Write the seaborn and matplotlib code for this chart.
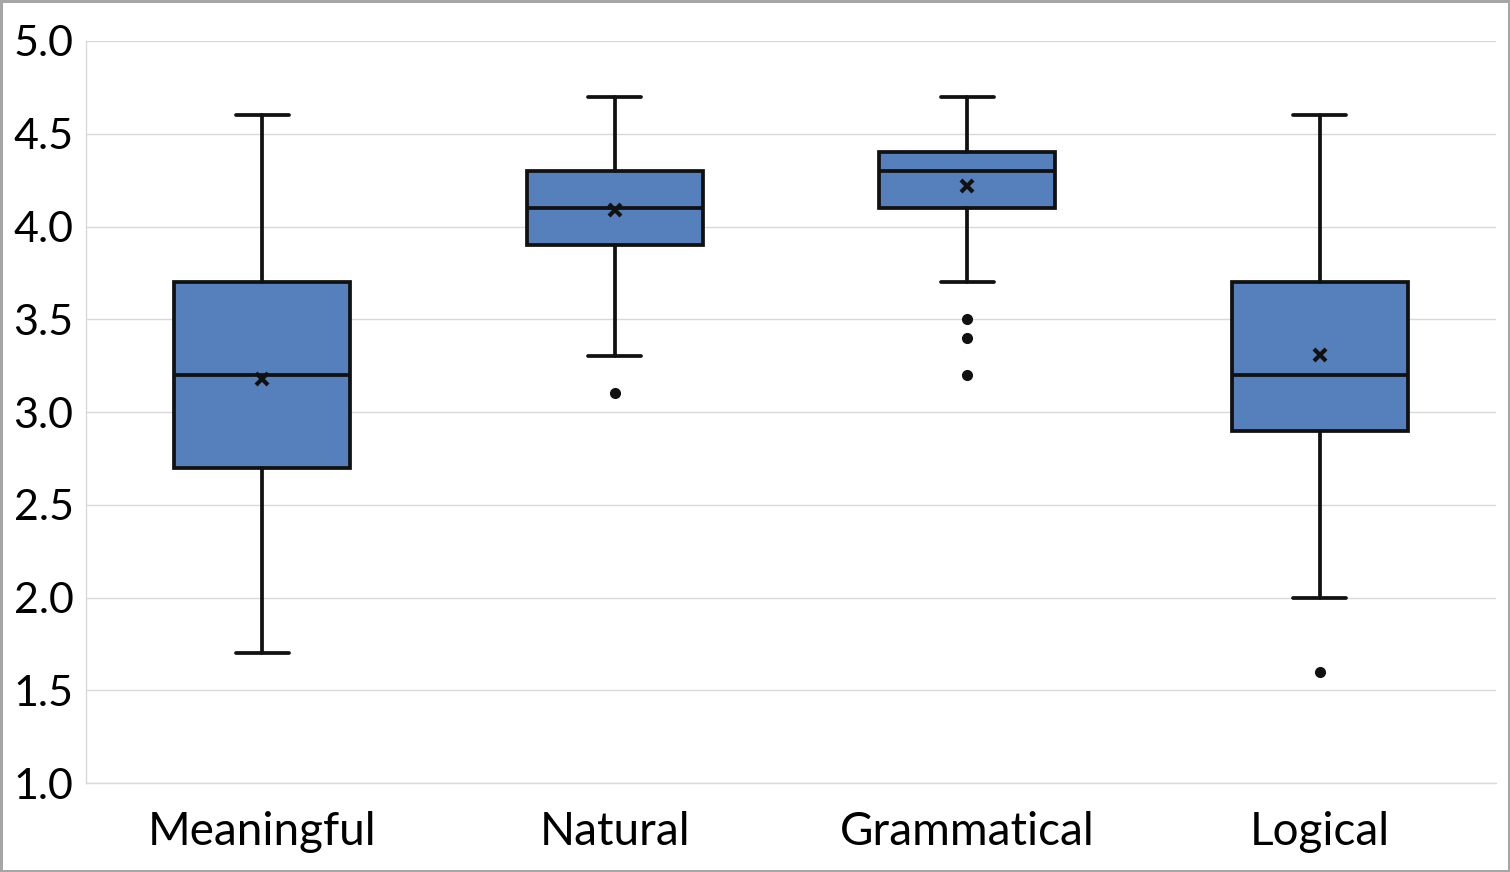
import matplotlib
matplotlib.use("Agg")
import matplotlib.pyplot as plt
import seaborn as sns

# summary statistics
categories = ["Meaningful", "Natural", "Grammatical", "Logical"]
whisker_low = [1.7, 3.3, 3.7, 2.0]
q1 = [2.7, 3.9, 4.1, 2.9]
medians = [3.2, 4.1, 4.3, 3.2]
q3 = [3.7, 4.3, 4.4, 3.7]
whisker_high = [4.6, 4.7, 4.7, 4.6]
means = [3.18, 4.09, 4.22, 3.31]
outliers = [[], [3.1], [3.5, 3.4, 3.2], [1.6]]
y_ticks = [1.0, 1.5, 2.0, 2.5, 3.0, 3.5, 4.0, 4.5, 5.0]

sns.set_theme(style="whitegrid")
plt.rcParams['font.family'] = ['Lato', 'DejaVu Sans']

box_color = "#5680BB"
edge = "#111111"

stats = []
for i, name in enumerate(categories):
    stats.append({
        'label': name,
        'whislo': whisker_low[i],
        'q1': q1[i],
        'med': medians[i],
        'q3': q3[i],
        'whishi': whisker_high[i],
        'mean': means[i],
        'fliers': outliers[i],
    })

fig = plt.figure(figsize=(15.1, 8.72), dpi=100, edgecolor="#a6a6a6", linewidth=2.5)
ax = fig.add_axes([0.057, 0.102, 0.9337, 0.851])

lw = 2.7
ax.bxp(
    stats,
    positions=range(len(categories)),
    widths=0.5,
    capwidths=0.15,
    patch_artist=True,
    showmeans=True,
    boxprops=dict(facecolor=box_color, edgecolor=edge, linewidth=lw),
    medianprops=dict(color=edge, linewidth=lw),
    whiskerprops=dict(color=edge, linewidth=lw),
    capprops=dict(color=edge, linewidth=lw),
    meanprops=dict(marker="x", markeredgecolor=edge, markersize=9, markeredgewidth=3),
    flierprops=dict(marker="o", markerfacecolor=edge, markeredgecolor=edge, markersize=7),
)

ax.set_xlim(-0.5, 3.5)
ax.set_ylim(1.0, 5.0)
ax.set_yticks(y_ticks)
ax.set_yticklabels([f"{t:.1f}" for t in y_ticks])
ax.set_xticks(range(len(categories)))
ax.set_xticklabels(categories)
ax.tick_params(axis='y', labelsize=31, pad=9, length=0, colors='black')
ax.tick_params(axis='x', labelsize=33, pad=20, length=0, colors='black')
ax.grid(axis='y', color="#d9d9d9", linewidth=1)
ax.grid(axis='x', visible=False)
for side in ['top', 'right']:
    ax.spines[side].set_visible(False)
for side in ['left', 'bottom']:
    ax.spines[side].set_color("#d9d9d9")
    ax.spines[side].set_linewidth(1)

fig.savefig("out.png", dpi=100, edgecolor=fig.get_edgecolor())
